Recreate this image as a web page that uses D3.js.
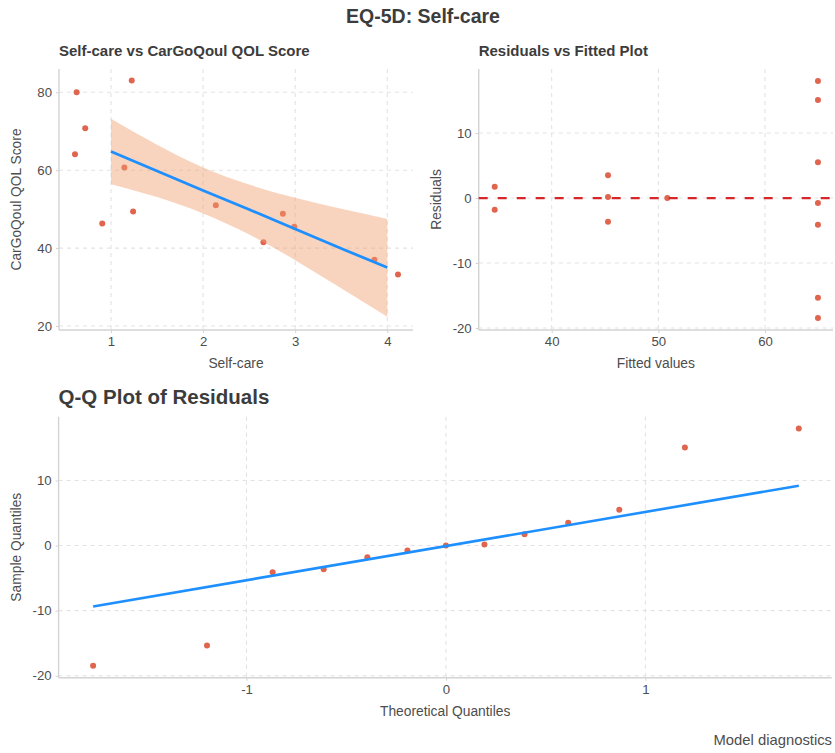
<!DOCTYPE html>
<html>
<head>
<meta charset="utf-8">
<script src="https://cdn.jsdelivr.net/npm/d3@7"></script>
<style>
  html, body { margin: 0; padding: 0; background: #fff; }
  svg { display: block; font-family: "Liberation Sans", Arial, sans-serif; }
</style>
</head>
<body>
<svg id="chart" width="835" height="753"></svg>
<script>
// ---------- Data ----------
// Panel 1: scatter (jittered Self-care vs QOL score)
const selfCare = [0.627, 1.225, 0.72, 0.609, 1.145, 0.905, 1.24, 2.138, 2.655, 2.866, 2.99, 3.86, 4.116];
const qolScore = [80.0, 83.0, 70.8, 64.1, 60.7, 46.3, 49.4, 51.0, 41.5, 48.8, 45.5, 37.0, 33.2];
// regression fit + confidence band
const bandX     = [1, 1.5, 2, 2.5, 3, 3.5, 4];
const bandFit   = [64.8, 59.8, 54.8, 49.9, 44.9, 39.9, 35.0];
const bandUpper = [73.2, 66.5, 60.7, 56.3, 52.9, 50.1, 47.5];
const bandLower = [56.4, 53.1, 48.9, 43.5, 36.9, 29.7, 22.4];
const p1XTicks = [1, 2, 3, 4];
const p1YTicks = [20, 40, 60, 80];

// Panel 2: residuals vs fitted
const fittedVals = [34.66, 34.66, 45.28, 45.28, 45.28, 50.84, 64.96, 64.96, 64.96, 64.96, 64.96, 64.96, 64.96];
const residVals  = [1.74, -1.8, 3.5, 0.15, -3.65, 0.0, 18.0, 15.08, 5.49, -0.77, -4.1, -15.34, -18.46];
const p2XTicks = [40, 50, 60];
const p2YTicks = [-20, -10, 0, 10];

// Panel 3: Q-Q plot
const theoQ  = [-1.769, -1.198, -0.869, -0.613, -0.394, -0.193, 0, 0.193, 0.394, 0.613, 0.869, 1.198, 1.769];
const sampQ  = [-18.46, -15.34, -4.1, -3.65, -1.8, -0.77, 0.0, 0.15, 1.74, 3.5, 5.49, 15.08, 18.0];
const qqLineX = [-1.769, 1.769];
const qqLineY = [-9.35, 9.2];
const p3XTicks = [-1, 0, 1];
const p3YTicks = [-20, -10, 0, 10];

// ---------- Styles ----------
const pointColor = "#E0654F";
const lineColor = "#1E8FFF";
const bandColor = "#F0A070";
const gridColor = "#E3E3E3";
const axisColor = "#D3D3D3";
const textColor = "#4D4D4D";
const titleColor = "#3C3C3C";

const svg = d3.select("#chart");

// Main title
svg.append("text")
  .attr("x", 423).attr("y", 23)
  .attr("text-anchor", "middle")
  .attr("font-size", 19.5).attr("font-weight", "bold")
  .attr("fill", titleColor)
  .text("EQ-5D: Self-care");

function panel(opts) {
  const g = svg.append("g");
  const x = d3.scaleLinear().domain(opts.xDomain).range([opts.left, opts.right]);
  const y = d3.scaleLinear().domain(opts.yDomain).range([opts.bottom, opts.top]);

  // grid
  const grid = g.append("g");
  grid.selectAll(".gx").data(opts.xTicks).enter().append("line")
    .attr("x1", d => x(d)).attr("x2", d => x(d))
    .attr("y1", opts.top).attr("y2", opts.bottom)
    .attr("stroke", gridColor).attr("stroke-width", 1.1)
    .attr("stroke-dasharray", "4,4");
  grid.selectAll(".gy").data(opts.yTicks).enter().append("line")
    .attr("x1", opts.left).attr("x2", opts.right)
    .attr("y1", d => y(d)).attr("y2", d => y(d))
    .attr("stroke", gridColor).attr("stroke-width", 1.1)
    .attr("stroke-dasharray", "4,4");

  // axes
  const xAxis = d3.axisBottom(x).tickValues(opts.xTicks).tickSize(3).tickPadding(4).tickFormat(d3.format("d"));
  const yAxis = d3.axisLeft(y).tickValues(opts.yTicks).tickSize(3).tickPadding(4).tickFormat(d3.format("d"));
  const gx = g.append("g").attr("transform", `translate(0,${opts.bottom})`).call(xAxis);
  const gy = g.append("g").attr("transform", `translate(${opts.left},0)`).call(yAxis);
  [gx, gy].forEach(a => {
    a.select(".domain").remove();
    a.selectAll(".tick line").attr("stroke", axisColor);
    a.selectAll(".tick text").attr("fill", textColor)
      .attr("font-size", 13.2).attr("font-family", "Liberation Sans, Arial, sans-serif");
  });
  gx.selectAll(".tick text").text(d => d < 0 ? "-" + Math.abs(d) : d);
  gy.selectAll(".tick text").text(d => d < 0 ? "-" + Math.abs(d) : d);
  // axis lines
  g.append("line").attr("x1", opts.left).attr("x2", opts.left)
    .attr("y1", opts.top).attr("y2", opts.bottom)
    .attr("stroke", axisColor).attr("stroke-width", 1.4);
  g.append("line").attr("x1", opts.left).attr("x2", opts.right)
    .attr("y1", opts.bottom).attr("y2", opts.bottom)
    .attr("stroke", axisColor).attr("stroke-width", 1.4);

  // axis titles
  g.append("text")
    .attr("x", (opts.left + opts.right) / 2).attr("y", opts.bottom + 38)
    .attr("text-anchor", "middle").attr("font-size", 13.8).attr("fill", textColor)
    .text(opts.xTitle);
  g.append("text")
    .attr("transform", `translate(${opts.yTitleX},${(opts.top + opts.bottom) / 2}) rotate(-90)`)
    .attr("text-anchor", "middle").attr("font-size", 13.8).attr("fill", textColor)
    .text(opts.yTitle);

  // panel title
  g.append("text")
    .attr("x", opts.left).attr("y", opts.titleY)
    .attr("font-size", opts.titleSize).attr("font-weight", "bold").attr("fill", titleColor)
    .text(opts.title);

  return { g, x, y };
}

// ---------- Panel 1 ----------
const p1 = panel({
  left: 59, right: 413, top: 69, bottom: 330,
  xDomain: [0.4354, 4.279], yDomain: [18.97, 85.98],
  xTicks: p1XTicks, yTicks: p1YTicks,
  xTitle: "Self-care", yTitle: "CarGoQoul QOL Score", yTitleX: 21,
  title: "Self-care vs CarGoQoul QOL Score", titleY: 56, titleSize: 15
});
p1.g.selectAll(".pt").data(selfCare).enter().append("circle")
  .attr("cx", d => p1.x(d)).attr("cy", (d, i) => p1.y(qolScore[i]))
  .attr("r", 3).attr("fill", pointColor);
const bandData = bandX.map((d, i) => ({ x: d, lo: bandLower[i], hi: bandUpper[i], fit: bandFit[i] }));
p1.g.append("path").datum(bandData)
  .attr("d", d3.area().curve(d3.curveNatural)
    .x(d => p1.x(d.x)).y0(d => p1.y(d.lo)).y1(d => p1.y(d.hi)))
  .attr("fill", bandColor).attr("fill-opacity", 0.45);
p1.g.append("path").datum(bandData)
  .attr("d", d3.line().x(d => p1.x(d.x)).y(d => p1.y(d.fit)))
  .attr("fill", "none").attr("stroke", lineColor).attr("stroke-width", 2.8);

// ---------- Panel 2 ----------
const p2 = panel({
  left: 478.7, right: 833, top: 69, bottom: 330,
  xDomain: [33.16, 66.37], yDomain: [-20.3, 19.85],
  xTicks: p2XTicks, yTicks: p2YTicks,
  xTitle: "Fitted values", yTitle: "Residuals", yTitleX: 441,
  title: "Residuals vs Fitted Plot", titleY: 56, titleSize: 15
});
p2.g.selectAll(".pt").data(fittedVals).enter().append("circle")
  .attr("cx", d => p2.x(d)).attr("cy", (d, i) => p2.y(residVals[i]))
  .attr("r", 3).attr("fill", pointColor);
p2.g.append("line")
  .attr("x1", p2.x.range()[0]).attr("x2", p2.x.range()[1])
  .attr("y1", p2.y(0)).attr("y2", p2.y(0))
  .attr("stroke", "#D7262A").attr("stroke-width", 2.2)
  .attr("stroke-dasharray", "9,10");

// ---------- Panel 3 ----------
const p3 = panel({
  left: 58.6, right: 831.7, top: 416.7, bottom: 677.7,
  xDomain: [-1.942, 1.934], yDomain: [-20.3, 19.8],
  xTicks: p3XTicks, yTicks: p3YTicks,
  xTitle: "Theoretical Quantiles", yTitle: "Sample Quantiles", yTitleX: 21,
  title: "Q-Q Plot of Residuals", titleY: 404, titleSize: 20.5
});
p3.g.selectAll(".pt").data(theoQ).enter().append("circle")
  .attr("cx", d => p3.x(d)).attr("cy", (d, i) => p3.y(sampQ[i]))
  .attr("r", 3).attr("fill", pointColor);
p3.g.append("line")
  .attr("x1", p3.x(qqLineX[0])).attr("x2", p3.x(qqLineX[1]))
  .attr("y1", p3.y(qqLineY[0])).attr("y2", p3.y(qqLineY[1]))
  .attr("stroke", lineColor).attr("stroke-width", 2.6);

// caption
svg.append("text")
  .attr("x", 832).attr("y", 745)
  .attr("text-anchor", "end").attr("font-size", 14.8).attr("fill", textColor)
  .text("Model diagnostics");
</script>
</body>
</html>
